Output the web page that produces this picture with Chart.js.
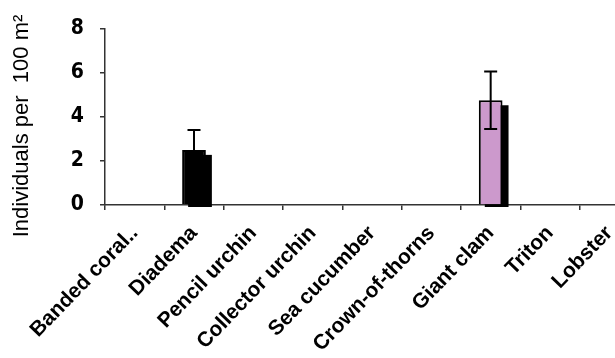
<!DOCTYPE html>
<html>
<head>
<meta charset="utf-8">
<script src="https://cdn.jsdelivr.net/npm/chart.js@4"></script>
<style>
html,body{margin:0;padding:0;background:#fff;overflow:hidden;width:615px;height:358px;}
canvas{display:block;}
</style>
</head>
<body>
<canvas id="c" width="645" height="358"></canvas>
<script>
const categories = ["Banded coral..", "Diadema", "Pencil urchin", "Collector urchin", "Sea cucumber", "Crown-of-thorns", "Giant clam", "Triton", "Lobster"];
const values = [0, 2.5, 0, 0, 0, 0, 4.75, 0, 0];
const errors = [0, 0.9, 0, 0, 0, 0, 1.3, 0, 0];
const yTicks = [0, 2, 4, 6, 8];
const barColors = ["#000000", "#000000", "#000000", "#000000", "#000000", "#000000", "#CC99CC", "#000000", "#000000"];

const shadowPlugin = {
  id: 'shadow',
  beforeDatasetDraw(chart) {
    const ctx = chart.ctx;
    const meta = chart.getDatasetMeta(0);
    const area = chart.chartArea;
    ctx.save();
    ctx.beginPath();
    ctx.rect(area.left, area.top, area.right - area.left, area.bottom - area.top + 2);
    ctx.clip();
    ctx.fillStyle = '#000';
    meta.data.forEach((bar, i) => {
      if (!values[i]) return;
      const p = bar.getProps(['x', 'y', 'base', 'width'], true);
      const l = p.x - p.width / 2 + 6;
      ctx.fillRect(l, p.y + 5, p.width, p.base - p.y);
    });
    ctx.restore();
  }
};

const errorPlugin = {
  id: 'errbars',
  afterDatasetsDraw(chart) {
    const ctx = chart.ctx;
    const y = chart.scales.y;
    const meta = chart.getDatasetMeta(0);
    ctx.save();
    ctx.strokeStyle = '#000';
    ctx.lineWidth = 2;
    meta.data.forEach((bar, i) => {
      const e = errors[i];
      if (!e) return;
      const x = bar.x;
      const yt = y.getPixelForValue(values[i] + e);
      const yb = y.getPixelForValue(values[i] - e);
      ctx.beginPath();
      ctx.moveTo(x, yt); ctx.lineTo(x, yb);
      ctx.moveTo(x - 6.5, yt); ctx.lineTo(x + 6.5, yt);
      ctx.moveTo(x - 6.5, yb); ctx.lineTo(x + 6.5, yb);
      ctx.stroke();
    });
    ctx.restore();
  }
};

new Chart(document.getElementById('c'), {
  type: 'bar',
  data: {
    labels: categories,
    datasets: [{
      data: values,
      backgroundColor: barColors,
      borderColor: '#000',
      borderWidth: 2,
      categoryPercentage: 1,
      barPercentage: 0.4
    }]
  },
  options: {
    responsive: false,
    animation: false,
    events: [],
    layout: { padding: { top: 25, right: 6, left: 0, bottom: 0 } },
    plugins: { legend: { display: false }, tooltip: { enabled: false } },
    scales: {
      x: {
        grid: { drawOnChartArea: false, tickLength: 5, color: '#333', lineWidth: 1.5, offset: true },
        border: { color: '#333', width: 1.5 },
        ticks: {
          color: '#000',
          font: { family: 'Liberation Sans', size: 21, weight: 'bold' },
          minRotation: 46, maxRotation: 46, autoSkip: false, padding: 11
        },
        afterFit(s) { s.height = 153; }
      },
      y: {
        min: 0, max: 8,
        afterBuildTicks(s) { s.ticks = yTicks.map(v => ({ value: v })); },
        grid: { drawOnChartArea: false, tickLength: 5, color: '#333', lineWidth: 1.5 },
        border: { color: '#333', width: 1.5 },
        ticks: {
          color: '#000',
          font: { family: '"Liberation Sans Narrow", "DejaVu Sans Condensed", "Liberation Sans"', size: 21, weight: 'bold' },
          padding: 16
        },
        title: {
          display: true,
          text: 'Individuals per  100 m\u00B2   ',
          color: '#000',
          font: { family: 'Liberation Sans', size: 22 },
          padding: { top: 9, bottom: 0 }
        },
        afterFit(s) { s.width = 105; }
      }
    }
  },
  plugins: [shadowPlugin, errorPlugin]
});
</script>
</body>
</html>
